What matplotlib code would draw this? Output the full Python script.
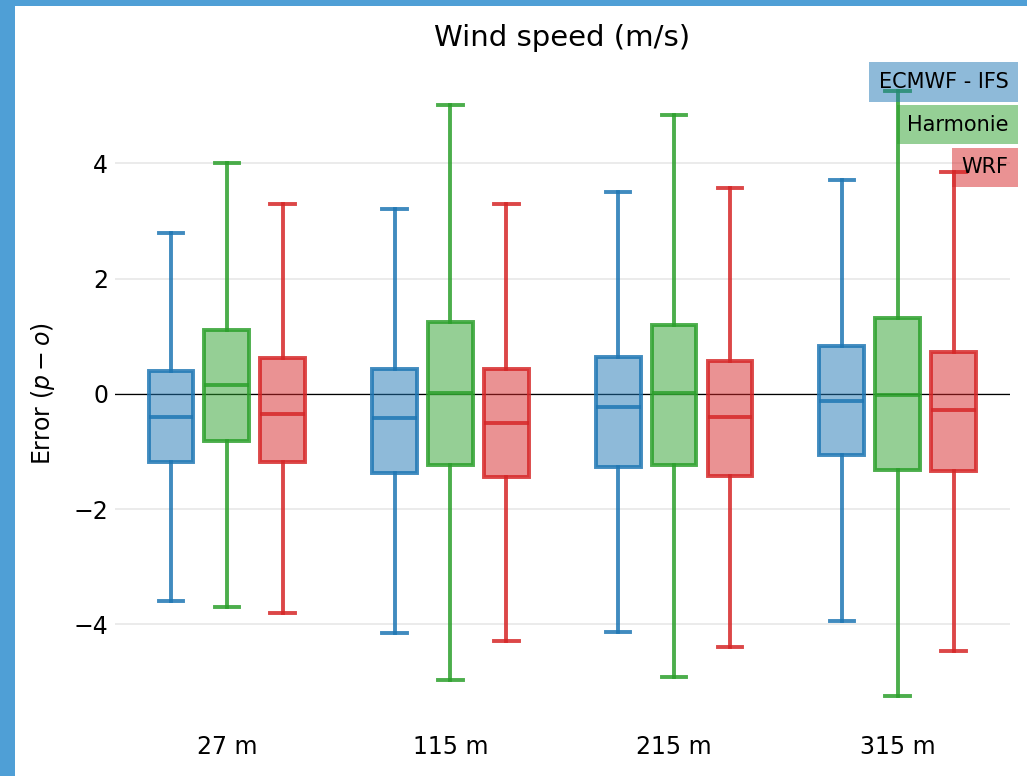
import matplotlib
matplotlib.use('Agg')
import matplotlib.pyplot as plt
from matplotlib.patches import Rectangle

# heights and models
heights = ['27 m', '115 m', '215 m', '315 m']
models = ['ECMWF - IFS', 'Harmonie', 'WRF']
colors = ['#1f77b4', '#2ca02c', '#d62728']

# whisker low, q1, median, q3, whisker high
ecmwf_stats = [
    (-3.59, -1.18, -0.40, 0.40, 2.80),
    (-4.15, -1.37, -0.42, 0.43, 3.21),
    (-4.13, -1.27, -0.23, 0.64, 3.51),
    (-3.94, -1.06, -0.12, 0.83, 3.72),
]
harmonie_stats = [
    (-3.70, -0.82, 0.16, 1.11, 4.01),
    (-4.97, -1.23, 0.02, 1.25, 5.02),
    (-4.91, -1.23, 0.02, 1.20, 4.84),
    (-5.24, -1.32, -0.02, 1.32, 5.26),
]
wrf_stats = [
    (-3.80, -1.18, -0.35, 0.63, 3.30),
    (-4.29, -1.44, -0.50, 0.43, 3.30),
    (-4.39, -1.42, -0.40, 0.57, 3.58),
    (-4.46, -1.34, -0.28, 0.73, 3.85),
]
yticks = [-4, -2, 0, 2, 4]

fig = plt.figure(figsize=(10.27, 7.76), dpi=100)
ax = fig.add_axes([0.112, 0.062, 0.871, 0.861])

# slide border remnants
fig.patches.append(Rectangle((0, 1 - 6 / 776), 1, 6 / 776, transform=fig.transFigure,
                             facecolor='#4f9fd6', edgecolor='none', zorder=0))
fig.patches.append(Rectangle((0, 0), 15 / 1027, 1, transform=fig.transFigure,
                             facecolor='#4f9fd6', edgecolor='none', zorder=0))

offsets = [-0.25, 0.0, 0.25]
for m, (stats, col, off) in enumerate(zip([ecmwf_stats, harmonie_stats, wrf_stats], colors, offsets)):
    bxp_stats = []
    for s in stats:
        bxp_stats.append(dict(whislo=s[0], q1=s[1], med=s[2], q3=s[3], whishi=s[4], fliers=[]))
    pos = [i + off for i in range(len(heights))]
    ax.bxp(bxp_stats, positions=pos, widths=0.2, capwidths=0.11, patch_artist=True,
           showfliers=False,
           boxprops=dict(facecolor=col, edgecolor=col, linewidth=2.8, alpha=0.5),
           medianprops=dict(color=col, linewidth=2.8, alpha=0.85),
           whiskerprops=dict(color=col, linewidth=2.8, alpha=0.85),
           capprops=dict(color=col, linewidth=2.8, alpha=0.85))

# box outlines stronger than fill
for p in ax.patches:
    p.set_alpha(None)
    fc = p.get_facecolor()
    p.set_facecolor((fc[0], fc[1], fc[2], 0.5))
    ec = p.get_edgecolor()
    p.set_edgecolor((ec[0], ec[1], ec[2], 0.85))

ax.axhline(0, color='black', linewidth=0.9, zorder=1)
ax.set_yticks(yticks)
ax.set_yticklabels(['\u2212' + str(abs(t)) if t < 0 else str(t) for t in yticks])
ax.set_xticks(range(len(heights)))
ax.set_xticklabels(heights)
ax.set_xlim(-0.5, 3.5)
ax.set_ylim(-5.8, 5.8)
ax.yaxis.grid(True, color='#e8e8e8', linewidth=1.2)
ax.set_axisbelow(True)
for sp in ax.spines.values():
    sp.set_visible(False)
ax.tick_params(axis='both', length=0, labelsize=17, pad=5)
ax.tick_params(axis='x', pad=5)
ax.set_ylabel('Error ($p - o$)', fontsize=17, labelpad=12)
ax.set_title('Wind speed (m/s)', fontsize=21, pad=10)

# legend as coloured text boxes
legend_y = [0.967, 0.903, 0.839]
for name, col, y in zip(models, colors, legend_y):
    ax.text(0.999, y, name, transform=ax.transAxes, ha='right', va='center', fontsize=15,
            bbox=dict(facecolor=col, alpha=0.5, edgecolor='none', pad=7))

fig.savefig('out.png', dpi=100)
